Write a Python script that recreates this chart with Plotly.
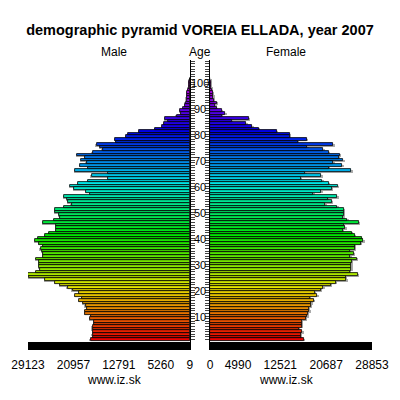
import colorsys
import plotly.graph_objects as go

# ---------------- data ----------------
ages = list(range(0, 101))

male = [17860, 17380, 17500, 17380, 17500, 17500, 17260, 17260, 17980, 17800,
        18820, 18820, 18520, 18760, 19180, 19900, 19420, 20620, 19900, 21100,
        21990, 23320, 24270, 26010, 28890, 29123, 27690, 26970, 27090, 27090,
        27090, 27690, 26370, 26370, 26610, 26850, 26370, 27090, 27870, 27270,
        26010, 25290, 24090, 24090, 24090, 26370, 24450, 23370, 23500, 24270,
        24270, 22600, 21280, 21880, 22060, 22600, 17980, 18700, 20800, 21580,
        20080, 18280, 14690, 17680, 14690, 20680, 18280, 19780, 18580, 19600,
        18880, 20260, 17500, 15700, 16180, 16780, 13310, 13490, 11510, 11090,
        9110, 6290, 4980, 4670, 3960, 4500, 2400, 1560, 1800, 1200,
        840, 780, 600, 600, 540, 480, 360, 240, 180, 120,
        60]

female = [16680, 16150, 16150, 16440, 15790, 16390, 16390, 16390, 17040, 17330,
          17450, 17690, 17570, 17930, 18050, 18520, 17750, 19120, 18640, 19710,
          20190, 21490, 22380, 24280, 24160, 26360, 24870, 25170, 25170, 25170,
          25290, 26120, 24990, 25590, 24870, 25770, 25770, 26830, 27310, 27010,
          25770, 25230, 23690, 24100, 23870, 26540, 24460, 23750, 23810, 23810,
          23800, 22680, 20540, 21730, 21020, 22680, 18400, 19830, 21730, 22800,
          21190, 20000, 16150, 19830, 16980, 25170, 21140, 23570, 21970, 23750,
          22920, 23090, 21140, 20190, 17330, 21970, 15670, 17210, 14190, 14190,
          11930, 8730, 7540, 6470, 3920, 6950, 2140, 2730, 2140, 1190,
          950, 1190, 710, 590, 590, 470, 360, 240, 180, 120,
          60]

male_ticks = [29123, 20957, 12791, 5260, 9]
female_ticks = [0, 4990, 12521, 20687, 28853]
age_labels = [10, 20, 30, 40, 50, 60, 70, 80, 90, 100]

# ---------------- style ----------------
FONT = "Liberation Sans, Arial, Helvetica, sans-serif"


def age_color(a):
    r, g, b = colorsys.hsv_to_rgb((3.0 * a) / 360.0, 1.0, 0.9)
    return "rgb(%d,%d,%d)" % (round(r * 255), round(g * 255), round(b * 255))


colors = [age_color(a) for a in ages]
male_max = max(male_ticks)
female_max = max(female_ticks)

# the page body adds an 8px offset, so the figure is 392px and all
# reference pixel positions are shifted by OFF
OFF = 8.0
W = H = 392.0


def px_x(p):
    return (p - OFF) / W


def px_y(p):
    return 1 - (p - OFF) / H


y_lo, y_hi = -4.08, 107.5
shadow_m = 1.3 * male_max / 162.0      # ~1.3 px of value
shadow_f = 1.3 * female_max / 162.0

fig = go.Figure()

# soft grey shadow behind each bar
fig.add_trace(go.Bar(
    x=[v + shadow_m for v in male], y=[a - 0.3 for a in ages], orientation="h", width=1.0,
    marker=dict(color="rgba(150,150,150,0.8)", line=dict(width=0)),
    xaxis="x", yaxis="y", showlegend=False, hoverinfo="skip"))
fig.add_trace(go.Bar(
    x=[v + shadow_f for v in female], y=[a - 0.3 for a in ages], orientation="h", width=1.0,
    marker=dict(color="rgba(150,150,150,0.8)", line=dict(width=0)),
    xaxis="x2", yaxis="y2", showlegend=False, hoverinfo="skip"))

fig.add_trace(go.Bar(
    x=male, y=ages, orientation="h", width=1.0,
    marker=dict(color=colors, line=dict(color="black", width=0.8)),
    xaxis="x", yaxis="y", showlegend=False, hoverinfo="skip"))
fig.add_trace(go.Bar(
    x=female, y=ages, orientation="h", width=1.0,
    marker=dict(color=colors, line=dict(color="black", width=0.8)),
    xaxis="x2", yaxis="y2", showlegend=False, hoverinfo="skip"))

# black scale bars below the pyramid
fig.add_trace(go.Bar(
    x=[male_max], y=[-2.48], orientation="h", width=3.2,
    marker=dict(color="black", line=dict(width=0)),
    xaxis="x", yaxis="y", showlegend=False, hoverinfo="skip"))
fig.add_trace(go.Bar(
    x=[female_max], y=[-2.48], orientation="h", width=3.2,
    marker=dict(color="black", line=dict(width=0)),
    xaxis="x2", yaxis="y2", showlegend=False, hoverinfo="skip"))

ydom = [px_y(350), px_y(60)]
tick_ages = list(range(0, 108))

common_x = dict(showgrid=False, zeroline=False, showline=False, ticks="",
                tickfont=dict(family=FONT, size=12, color="black"),
                ticklabelstandoff=6, fixedrange=True, automargin=False)

fig.update_layout(
    width=int(W), height=int(H), autosize=False,
    margin=dict(l=0, r=0, t=0, b=0, pad=0, autoexpand=False),
    paper_bgcolor="white", plot_bgcolor="white",
    barmode="overlay", bargap=0,
    font=dict(family=FONT, color="black"),
    title=dict(text="<b>demographic pyramid VOREIA ELLADA, year 2007</b>",
               x=px_x(200), xanchor="center", y=px_y(30), yanchor="middle",
               automargin=False,
               font=dict(family=FONT, size=14.5, color="black")),
    xaxis=dict(domain=[px_x(28), px_x(190)], range=[male_max, 0], anchor="y",
               tickvals=male_ticks, ticktext=[str(v) for v in male_ticks],
               **common_x),
    xaxis2=dict(domain=[px_x(210), px_x(372)], range=[0, female_max], anchor="y2",
                tickvals=female_ticks, ticktext=[str(v) for v in female_ticks],
                **common_x),
    yaxis=dict(domain=ydom, range=[y_lo, y_hi], anchor="x", side="right",
               showgrid=False, zeroline=False, showline=True,
               linecolor="black", linewidth=1, automargin=False,
               ticks="outside", ticklen=4, tickwidth=1, tickcolor="#444",
               tickvals=tick_ages, showticklabels=False, fixedrange=True),
    yaxis2=dict(domain=ydom, range=[y_lo, y_hi], anchor="x2", side="left",
                overlaying="y", automargin=False,
                showgrid=False, zeroline=False, showline=True,
                linecolor="black", linewidth=1,
                ticks="outside", ticklen=4, tickwidth=1, tickcolor="#444",
                tickvals=tick_ages, showticklabels=False, fixedrange=True),
)

annotations = []
for a in age_labels:
    annotations.append(dict(text=str(a), x=px_x(200), xref="paper", y=a - 1.27, yref="y",
                            xanchor="center", yanchor="middle", showarrow=False,
                            font=dict(family=FONT, size=11, color="black")))
for txt, xp, yp in [("Male", 114, 52), ("Age", 200, 52), ("Female", 286, 52),
                    ("www.iz.sk", 114, 380), ("www.iz.sk", 286, 380)]:
    annotations.append(dict(text=txt, x=px_x(xp), xref="paper", y=px_y(yp), yref="paper",
                            xanchor="center", yanchor="middle", showarrow=False,
                            font=dict(family=FONT, size=12, color="black")))
fig.update_layout(annotations=annotations)

fig.write_html("out.html")
